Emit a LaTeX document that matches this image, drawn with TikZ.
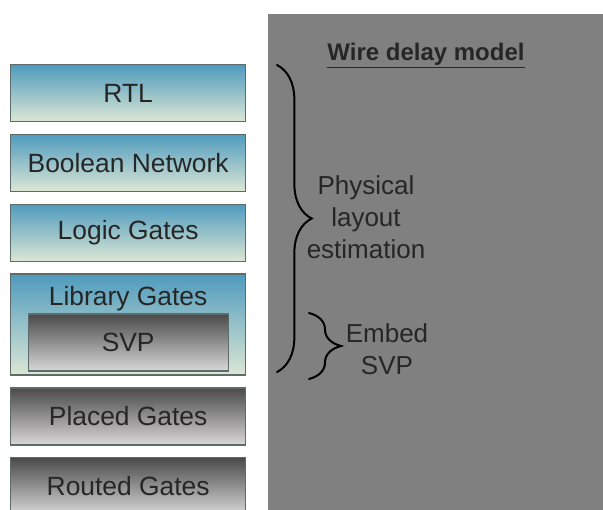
\documentclass[tikz,border=0pt]{standalone}
\usepackage{fontspec}
\setmainfont{Liberation Sans}
\usetikzlibrary{positioning, decorations.pathreplacing}
\definecolor{steelblue}{HTML}{4F9BBE}
\definecolor{palegreen}{HTML}{DCE7D4}
\definecolor{darkgrey}{HTML}{4A4A4A}
\definecolor{lightgrey}{HTML}{D9D7D7}
\definecolor{panelgrey}{HTML}{808080}
\definecolor{edgegrey}{HTML}{5E6B6B}

\begin{document}
\begin{tikzpicture}[x=0.75pt,y=-0.75pt,node distance=8.6pt]
  \tikzstyle{level}=[draw=edgegrey,line width=1pt,minimum width=176.25pt,minimum height=42.75pt,inner sep=0pt,font=\fontsize{19.8}{23}\selectfont,text=black!85]
  \tikzstyle{bluebox}=[level,top color=steelblue,bottom color=palegreen]
  \tikzstyle{greybox}=[level,top color=darkgrey,bottom color=lightgrey]
  \tikzstyle{note}=[align=center,font=\fontsize{19.5}{24}\selectfont,text=black!85]
  \tikzstyle{brace}=[decorate,line width=1.5pt,line cap=round]

  \useasboundingbox (0,0) rectangle (603,510);
  \clip (0,0) rectangle (603,510);
  \fill[white] (0,0) rectangle (603,510);
  \fill[panelgrey] (268,14) rectangle (603,510);

  \node[bluebox,anchor=north west] (rtl)    at (10,64)        {RTL};
  \node[bluebox]                   (bool)   [below=of rtl]    {Boolean Network};
  \node[bluebox]                   (logic)  [below=of bool]   {Logic Gates};
  \node[bluebox,minimum height=75.75pt] (lib) [below=of logic] {};
  \node[greybox]                   (placed) [below=of lib]    {Placed Gates};
  \node[greybox]                   (routed) [below=of placed] {Routed Gates};

  \node[note,font=\fontsize{19.8}{23}\selectfont] (libtext) at ([yshift=-19pt]lib.north) {Library Gates};
  \node[greybox,minimum width=150pt,anchor=south] (svp) at ([yshift=3pt]lib.south) {SVP};

  \node[font=\fontsize{18}{22}\selectfont\bfseries,text=black!85] (title) at (426,56) {\underline{Wire delay model}};

  \coordinate (phystop) at (277,65);
  \coordinate (physbot) at (277,372);
  \coordinate (embedtop) at (309,313);
  \coordinate (embedbot) at (309,379);

  \draw[brace,decoration={brace,amplitude=26pt}] (phystop) -- (physbot);
  \draw[brace,decoration={brace,amplitude=24pt}] (embedtop) -- (embedbot);

  \node[note] (phys)  at (366,217) {Physical\\layout\\estimation};
  \node[note] (embed) at (387,349) {Embed\\SVP};
\end{tikzpicture}
\end{document}
